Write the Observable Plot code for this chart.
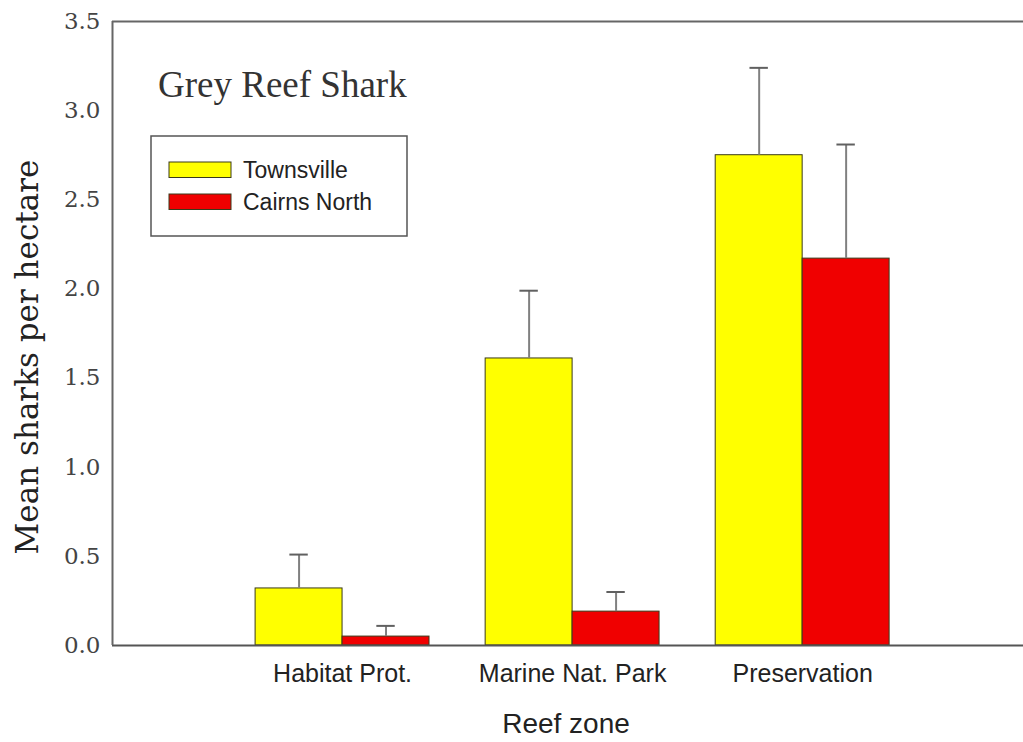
<!DOCTYPE html>
<html>
<head>
<meta charset="utf-8">
<script src="https://cdn.jsdelivr.net/npm/d3@7"></script>
<script src="https://cdn.jsdelivr.net/npm/@observablehq/plot@0.6"></script>
<style>
  html, body { margin: 0; padding: 0; background: #fff; }
  #chart { width: 1023px; height: 742px; overflow: hidden; }
</style>
</head>
<body>
<div id="chart"></div>
<script>
const zones = ["Habitat Prot.", "Marine Nat. Park", "Preservation"];
const seriesNames = ["Townsville", "Cairns North"];
const townsville = [0.32, 1.61, 2.75];
const townsvilleErr = [0.19, 0.38, 0.49];
const cairns = [0.05, 0.19, 2.17];
const cairnsErr = [0.06, 0.11, 0.64];
const yTicks = [0, 0.5, 1.0, 1.5, 2.0, 2.5, 3.0, 3.5];
const colors = ["#ffff00", "#f00000"];

const halfBar = 0.378;
const cap = 0.04;
const rows = [];
zones.forEach((z, i) => {
  rows.push({zone: z, series: seriesNames[0], value: townsville[i], err: townsvilleErr[i], x1: i + 1 - halfBar, x2: i + 1, xc: i + 1 - halfBar / 2});
  rows.push({zone: z, series: seriesNames[1], value: cairns[i], err: cairnsErr[i], x1: i + 1, x2: i + 1 + halfBar, xc: i + 1 + halfBar / 2});
});

const serifWide = "'DejaVu Serif', serif";
const serif = "'Liberation Serif', 'Times New Roman', serif";
const sans = "'Liberation Sans', Arial, sans-serif";

const plot = Plot.plot({
  width: 1023,
  height: 742,
  marginLeft: 112,
  marginRight: 0,
  marginTop: 21,
  marginBottom: 97,
  style: {background: "#fff", overflow: "visible"},
  x: {domain: [0, 3.96], axis: null},
  y: {domain: [0, 3.5], axis: null},
  color: {domain: seriesNames, range: colors},
  marks: [
    Plot.rectY(rows, {x1: "x1", x2: "x2", y1: 0, y2: "value", fill: "series", stroke: "#3a3a1a", strokeWidth: 1}),
    Plot.ruleX(rows, {x: "xc", y1: "value", y2: d => d.value + d.err, stroke: "#808080", strokeWidth: 2}),
    Plot.ruleY(rows, {y: d => d.value + d.err, x1: d => d.xc - cap, x2: d => d.xc + cap, stroke: "#606060", strokeWidth: 2}),
    Plot.ruleY([0], {stroke: "#555", strokeWidth: 2}),
    Plot.ruleY([3.5], {stroke: "#666", strokeWidth: 2}),
    Plot.ruleX([0], {stroke: "#666", strokeWidth: 2}),
    Plot.axisY({ticks: yTicks, tickSize: 0, tickPadding: 12, tickFormat: d3.format(".1f"), fontSize: 23, fontFamily: serifWide, label: null, color: "#444"}),
    Plot.text(zones, {x: (d, i) => i + 1, y: 0, text: d => d, dy: 28, fontSize: 25, fontFamily: sans, fill: "#222", frameAnchor: "middle"})
  ]
});

const svg = d3.select(plot);
// y axis title
svg.append("text").attr("transform", "translate(38,357) rotate(-90)").attr("text-anchor", "middle")
  .style("font-family", serifWide).style("font-size", "31px").style("fill", "#222").text("Mean sharks per hectare");
// x axis title
svg.append("text").attr("x", 566).attr("y", 733).attr("text-anchor", "middle")
  .style("font-family", sans).style("font-size", "28px").style("fill", "#222").text("Reef zone");
// chart title inside plot
svg.append("text").attr("x", 158).attr("y", 97).attr("text-anchor", "start")
  .style("font-family", serif).style("font-size", "37px").style("fill", "#333").text("Grey Reef Shark");
// legend box
const lg = svg.append("g");
lg.append("rect").attr("x", 151).attr("y", 136).attr("width", 256).attr("height", 100)
  .attr("fill", "#fff").attr("stroke", "#555").attr("stroke-width", 1.5);
seriesNames.forEach((s, i) => {
  const yy = 162 + i * 32;
  lg.append("rect").attr("x", 169).attr("y", yy).attr("width", 62).attr("height", 15.5)
    .attr("fill", colors[i]).attr("stroke", "#3a3a1a").attr("stroke-width", 1);
  lg.append("text").attr("x", 243).attr("y", yy + 15.5).attr("text-anchor", "start")
    .style("font-family", sans).style("font-size", "23px").style("fill", "#222").text(s);
});

document.getElementById("chart").appendChild(plot);
</script>
</body>
</html>
